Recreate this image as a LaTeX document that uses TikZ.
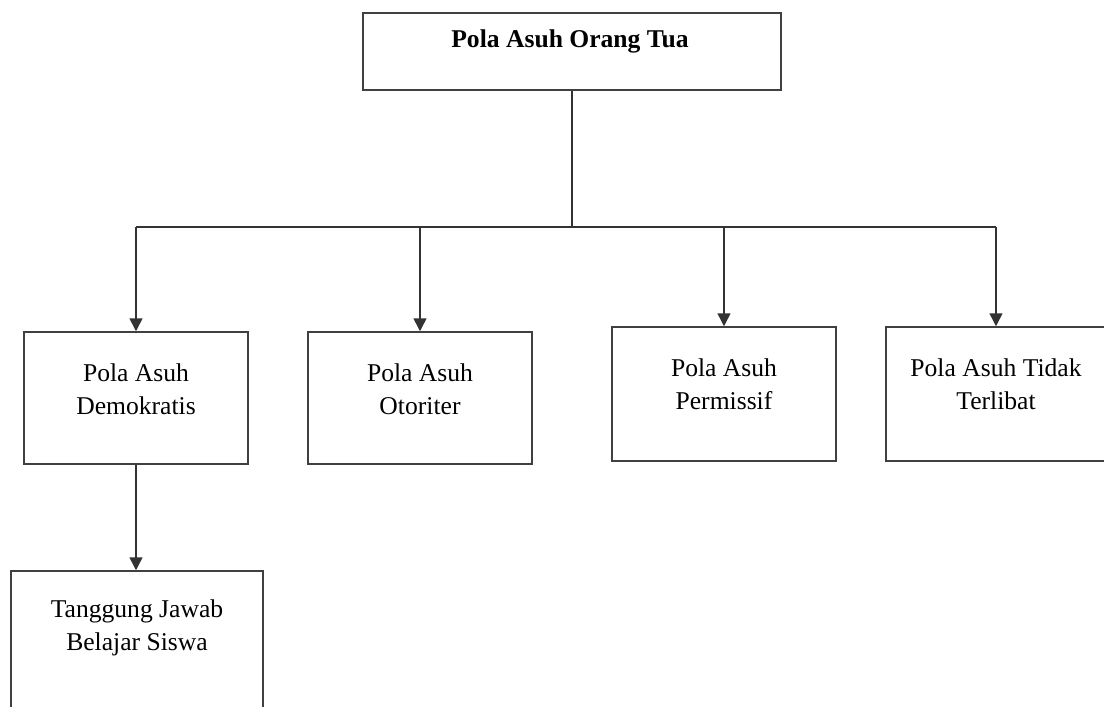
\documentclass[tikz,border=0pt]{standalone}
\usepackage{fontspec}
\setmainfont{Liberation Serif}
\usetikzlibrary{arrows.meta}
\begin{document}
\begin{tikzpicture}[x=1pt,y=-1pt,
    kotak/.style={draw=black!75, line width=1.5pt, inner sep=0pt, minimum width=224pt, minimum height=132pt},
    teks/.style={align=center, font=\fontsize{25.6}{33}\selectfont},
    garis/.style={draw=black!80, line width=1.5pt},
    panah/.style={garis, -{Triangle[width=13pt,length=13pt]}}]
  \useasboundingbox (0,0) rectangle (1104,707);

  \node[kotak, minimum width=418pt, minimum height=77pt] (pola) at (572,51.5) {};
  \node[kotak] (demokratis) at (136,398) {};
  \node[kotak] (otoriter) at (420,398) {};
  \node[kotak, minimum height=134pt] (permissif) at (724,394) {};
  \node[kotak, minimum width=220pt, minimum height=134pt] (tidak) at (996,394) {};
  \node[kotak, minimum width=252pt, minimum height=150pt] (tanggung) at (137,646) {};

  \node[teks] (tpola) at (570,41) {\textbf{Pola Asuh Orang Tua}};
  \node[teks] (tdemokratis) at (136,389) {Pola Asuh\\Demokratis};
  \node[teks] (totoriter) at (420,389) {Pola Asuh\\Otoriter};
  \node[teks] (tpermissif) at (724,384) {Pola Asuh\\Permissif};
  \node[teks] (ttidak) at (996,384) {Pola Asuh Tidak\\Terlibat};
  \node[teks] (ttanggung) at (137,628) {Tanggung Jawab\\Belajar Siswa};

  \coordinate (cabang) at (572,227);
  \draw[garis] (pola.south) -- (cabang);
  \draw[garis] (demokratis.north |- cabang) -- (tidak.north |- cabang);
  \draw[panah] (demokratis.north |- cabang) -- (demokratis.north);
  \draw[panah] (otoriter.north |- cabang) -- (otoriter.north);
  \draw[panah] (permissif.north |- cabang) -- (permissif.north);
  \draw[panah] (tidak.north |- cabang) -- (tidak.north);
  \draw[panah] (demokratis.south) -- (demokratis.south |- tanggung.north);
\end{tikzpicture}
\end{document}
